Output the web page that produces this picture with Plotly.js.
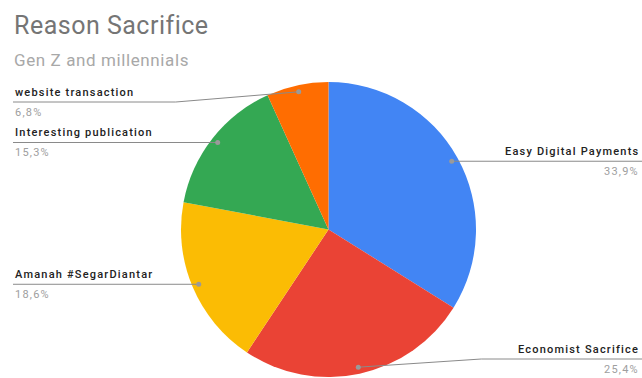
<!DOCTYPE html>
<html>
<head>
<meta charset="utf-8">
<script src="https://cdn.plot.ly/plotly-3.0.1.min.js"></script>
<style>
  html, body { margin: 0; padding: 0; background: #fff; }
  #chart { width: 642px; height: 378px; }
</style>
</head>
<body>
<div id="chart"></div>
<script>
// Reasons for sacrifice, Gen Z and millennial respondents
const categories = [
  'Easy Digital Payments',
  'Economist Sacrifice',
  'Amanah #SegarDiantar',
  'Interesting publication',
  'website transaction'
];
const counts = [20, 15, 11, 9, 4];
const sliceColors = ['#4285F4', '#EA4335', '#FBBC04', '#34A853', '#FF6D01'];

const W = 642, H = 378;
// pie geometry in pixels
const CX = 328.5, CY = 229.5, R = 147.5;
const DOT_R = 0.955 * R;
const TOP_LIMIT = 102, BOTTOM_LIMIT = 359;   // label line limits
const LEFT_X = 13, RIGHT_X = 641;
const BEND = 123;

const px = x => x / W;
const py = y => 1 - y / H;

const total = counts.reduce((a, b) => a + b, 0);
const shapes = [];
const annotations = [];
const spaced = (t, s) => '<span style="letter-spacing:' + s + 'px">' + t + '</span>';

let cum = 0;
counts.forEach((v, i) => {
  const mid = (cum + v / 2) / total;
  cum += v;
  const ang = mid * 2 * Math.PI;
  const dx = CX + DOT_R * Math.sin(ang);
  const dy = CY - DOT_R * Math.cos(ang);
  const right = Math.sin(ang) > 0;
  const ly = Math.min(Math.max(dy, TOP_LIMIT), BOTTOM_LIMIT);
  const clamped = Math.abs(ly - dy) > 0.5;
  const bx = clamped ? (right ? dx + BEND : dx - BEND) : dx;
  const ex = right ? W : LEFT_X;

  // leader line: dot -> bend -> label edge
  if (clamped) {
    shapes.push({type: 'line', xref: 'paper', yref: 'paper',
      x0: px(dx), y0: py(dy), x1: px(bx), y1: py(ly),
      line: {color: '#8a8a8a', width: 1}});
  }
  shapes.push({type: 'line', xref: 'paper', yref: 'paper',
    x0: px(bx), y0: py(ly), x1: px(ex), y1: py(ly),
    line: {color: '#8a8a8a', width: 1}});
  shapes.push({type: 'circle', xref: 'paper', yref: 'paper',
    xsizemode: 'pixel', ysizemode: 'pixel',
    xanchor: px(dx), yanchor: py(dy), x0: -2.5, x1: 2.5, y0: -2.5, y1: 2.5,
    fillcolor: '#9a9a9a', line: {width: 0}});

  const pct = (v / total * 100).toFixed(1).replace('.', ',') + '%';
  const tx = right ? px(RIGHT_X) : px(LEFT_X);
  const anchor = right ? 'right' : 'left';
  annotations.push({xref: 'paper', yref: 'paper', x: tx, y: py(ly - 10),
    xanchor: anchor, yanchor: 'middle', showarrow: false,
    text: spaced(categories[i], 1.2),
    font: {family: 'Roboto, Arial, sans-serif', size: 11, color: '#222222', weight: 500}});
  annotations.push({xref: 'paper', yref: 'paper', x: tx, y: py(ly + 10),
    xanchor: anchor, yanchor: 'middle', showarrow: false,
    text: spaced(pct, 1.2),
    font: {family: 'Roboto, Arial, sans-serif', size: 11, color: '#9e9e9e'}});
});

annotations.push({xref: 'paper', yref: 'paper', x: px(12), y: py(25),
  xanchor: 'left', yanchor: 'middle', showarrow: false,
  text: spaced('Reason Sacrifice', 0.5),
  font: {family: 'Roboto, Arial, sans-serif', size: 25, color: '#757575'}});
annotations.push({xref: 'paper', yref: 'paper', x: px(12), y: py(60),
  xanchor: 'left', yanchor: 'middle', showarrow: false,
  text: spaced('Gen Z and millennials', 0.6),
  font: {family: 'Roboto, Arial, sans-serif', size: 17, color: '#a8a8a8'}});

const data = [{
  type: 'pie',
  labels: categories,
  values: counts,
  sort: false,
  direction: 'clockwise',
  rotation: 0,
  textinfo: 'none',
  hoverinfo: 'label+percent',
  marker: {colors: sliceColors, line: {width: 0}},
  domain: {x: [px(CX - R), px(CX + R)], y: [py(CY + R), py(CY - R)]}
}];

const layout = {
  width: W, height: H,
  margin: {l: 0, r: 0, t: 0, b: 0},
  paper_bgcolor: '#ffffff',
  showlegend: false,
  shapes: shapes,
  annotations: annotations
};

Plotly.newPlot('chart', data, layout, {displayModeBar: false, staticPlot: true});
</script>
</body>
</html>
